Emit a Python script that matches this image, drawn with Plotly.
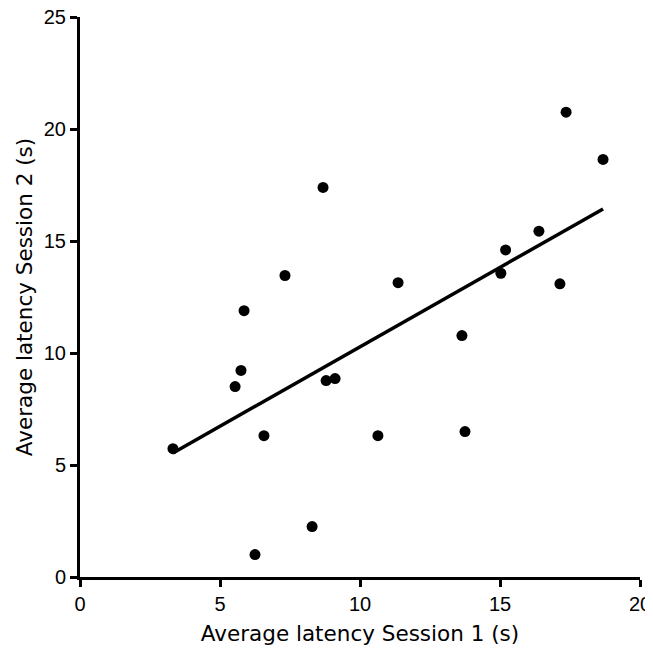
import numpy as np
import plotly.graph_objects as go

session1 = [3.32, 5.54, 5.75, 5.86, 6.25, 6.57, 7.32, 8.29, 8.68, 8.79, 9.11,
            10.64, 11.36, 13.64, 13.75, 15.03, 15.20, 16.39, 17.14, 17.36, 18.68]
session2 = [5.73, 8.50, 9.22, 11.89, 1.00, 6.31, 13.46, 2.25, 17.39, 8.77, 8.86,
            6.31, 13.14, 10.78, 6.49, 13.56, 14.60, 15.44, 13.09, 20.75, 18.64]

x_ticks = [0, 5, 10, 15, 20]
y_ticks = [0, 5, 10, 15, 20, 25]

slope, intercept = np.polyfit(session1, session2, 1)
fit_x = [min(session1), max(session1)]
fit_y = [slope * v + intercept for v in fit_x]

fig = go.Figure()
fig.add_trace(go.Scatter(x=session1, y=session2, mode="markers",
                         marker=dict(color="black", size=11), showlegend=False,
                         cliponaxis=False))
fig.add_trace(go.Scatter(x=fit_x, y=fit_y, mode="lines",
                         line=dict(color="black", width=3.5), showlegend=False))

title_font = dict(family="DejaVu Sans, Arial, sans-serif", color="black", size=21.5)
tick_font = dict(family="Liberation Sans, Arial, sans-serif", color="black", size=20)
fig.update_layout(
    width=645, height=640,
    margin=dict(l=72, r=13, t=9, b=71),
    paper_bgcolor="white", plot_bgcolor="white",
    font=tick_font,
    xaxis=dict(range=[0, 20], tickvals=x_ticks, showgrid=False, zeroline=False,
               showline=True, linecolor="black", linewidth=3, automargin=False,
               ticks="outside", ticklen=7, tickwidth=3, tickcolor="black",
               tickfont=tick_font, ticklabeloverflow="allow",
               title=dict(text="Average latency Session 1 (s)", font=title_font, standoff=12)),
    yaxis=dict(range=[0, 25], tickvals=y_ticks, showgrid=False, zeroline=False,
               showline=True, linecolor="black", linewidth=3, automargin=False,
               ticks="outside", ticklen=7, tickwidth=3, tickcolor="black",
               tickfont=tick_font, ticklabeloverflow="allow",
               title=dict(text="Average latency Session 2 (s)", font=title_font, standoff=6)),
)
fig.write_html("out.html")
